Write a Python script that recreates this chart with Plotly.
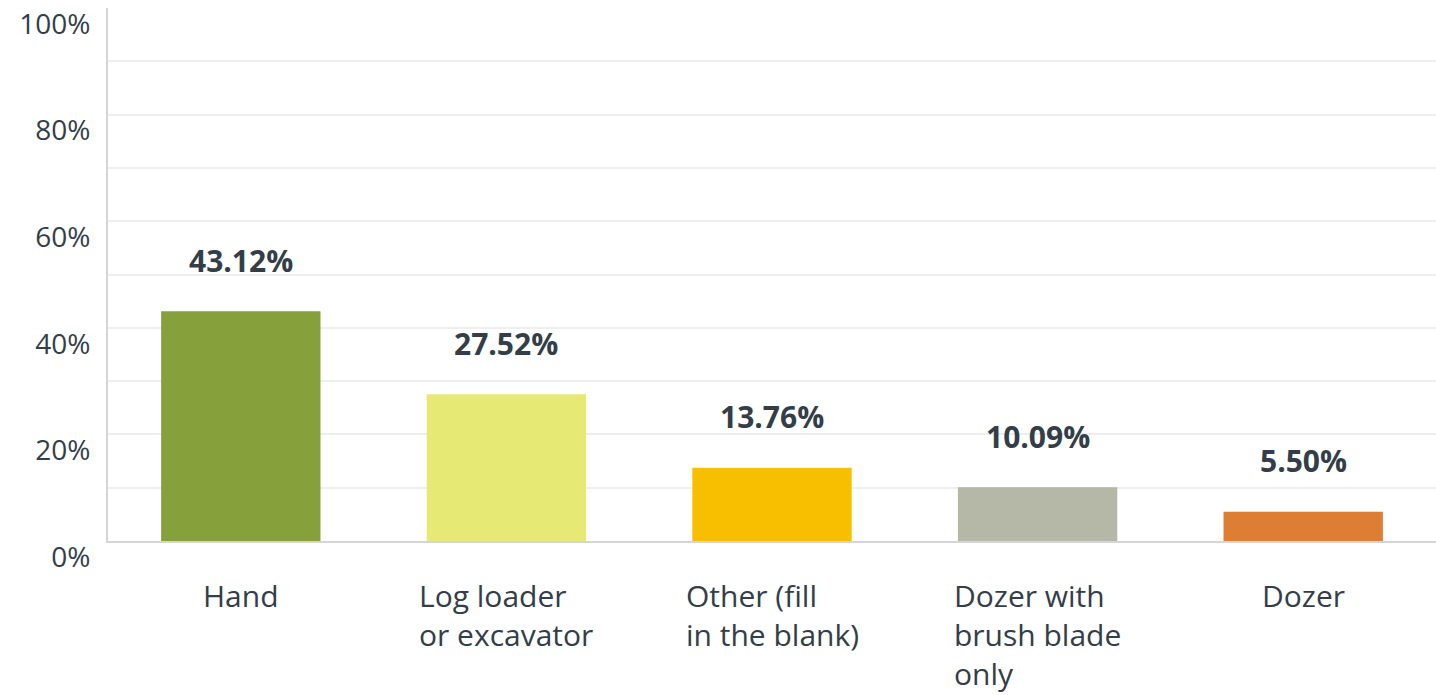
# Bar chart: share of responses by clearing method

import plotly.graph_objects as go

categories = ["Hand", "Log loader or excavator", "Other (fill in the blank)",
              "Dozer with brush blade only", "Dozer"]
axis_labels = ["Hand", "Log loader<br>or excavator", "Other (fill<br>in the blank)",
               "Dozer with<br>brush blade<br>only", "Dozer"]
percentages = [43.12, 27.52, 13.76, 10.09, 5.50]
bar_colors = ["#86a03c", "#e6ea74", "#f7bf00", "#b5b8a7", "#de7e34"]

y_ticks = [0, 20, 40, 60, 80, 100]
y_ticktext = [f"{t}%" for t in y_ticks]

text_color = "#333e48"
font_family = "Open Sans, Lato, sans-serif"

fig = go.Figure(go.Bar(
    x=categories,
    y=percentages,
    marker=dict(color=bar_colors, line=dict(width=0)),
    hoverinfo="skip",
))

# value labels above each bar
for cat, val in zip(categories, percentages):
    fig.add_annotation(x=cat, y=val, text=f"<b>{val:.2f}%</b>", showarrow=False,
                       yanchor="middle", yshift=51,
                       font=dict(size=30, color=text_color, family=font_family))

# left-aligned category labels under the axis
for cat, lab in zip(categories, axis_labels):
    fig.add_annotation(x=cat, y=0, yref="y", text=lab, showarrow=False,
                       yanchor="top", yshift=-32, align="left",
                       font=dict(size=30, color=text_color, family=font_family))

fig.update_layout(
    width=1436, height=695,
    margin=dict(l=108, r=0, t=8, b=154),
    plot_bgcolor="white", paper_bgcolor="white",
    bargap=0.4,
    showlegend=False,
    font=dict(family=font_family, color=text_color),
)
fig.update_xaxes(showticklabels=False, showline=True, linecolor="#d3d5d6", linewidth=2,
                 showgrid=False, zeroline=False, fixedrange=True, automargin=False)
fig.update_yaxes(range=[0, 100], tickvals=y_ticks, ticktext=y_ticktext,
                 ticklabelposition="outside", ticklabelshift=16, ticklabelstandoff=10,
                 ticklabeloverflow="allow", automargin=False,
                 tickfont=dict(size=28, color=text_color, family=font_family),
                 showgrid=True, gridcolor="#eceeef", gridwidth=1.5,
                 minor=dict(dtick=10, showgrid=True, gridcolor="#eceeef", gridwidth=1.5),
                 showline=True, linecolor="#d3d5d6", linewidth=2,
                 zeroline=False, fixedrange=True)

# drop the default page margin so the figure sits at the window corner
fig.write_html("out.html", config={"displayModeBar": False},
               post_script="document.body.style.margin = '0';")
